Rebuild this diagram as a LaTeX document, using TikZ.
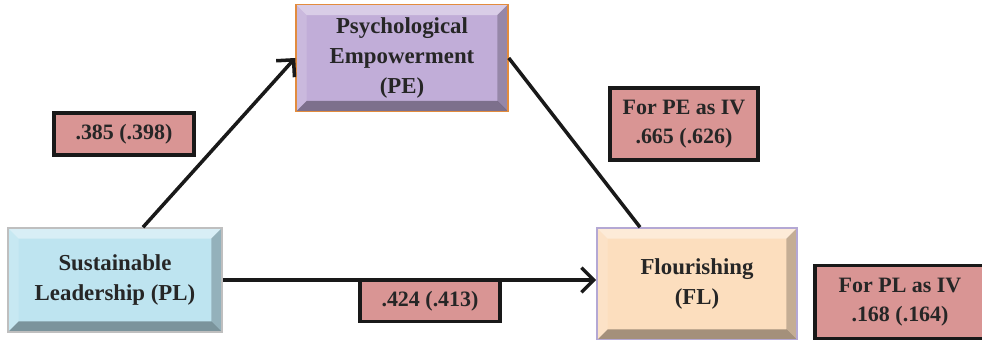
\documentclass[tikz,border=0pt]{standalone}
\usepackage{fontspec}
\setmainfont{Liberation Serif}
\usetikzlibrary{arrows.meta,calc}
\definecolor{peFill}{RGB}{193,173,216}
\definecolor{peLine}{RGB}{226,140,62}
\definecolor{plFill}{RGB}{190,228,240}
\definecolor{flFill}{RGB}{252,222,190}
\definecolor{boxLine}{RGB}{180,168,212}
\definecolor{coefFill}{RGB}{217,149,148}
\tikzset{
  bevel/.style={path picture={
    \path (path picture bounding box.north west) coordinate (bnw)
          (path picture bounding box.south east) coordinate (bse);
    \fill[white,opacity=.4] (bnw) -- (bnw -| bse) -- ++(-6pt,-6pt) -- ($(bnw)+(6pt,-6pt)$) -- cycle;
    \fill[white,opacity=.15] (bnw) -- ($(bnw)+(6pt,-6pt)$) -- ($(bnw |- bse)+(6pt,6pt)$) -- (bnw |- bse) -- cycle;
    \fill[black,opacity=.35] (bnw |- bse) -- (bse) -- ++(-6pt,6pt) -- ($(bnw |- bse)+(6pt,6pt)$) -- cycle;
    \fill[black,opacity=.22] (bse) -- (bse |- bnw) -- ++(-6pt,-6pt) -- ($(bse)+(-6pt,6pt)$) -- cycle;
  }},
  var/.style={align=center, inner sep=0pt, line width=0.9pt, bevel,
    font=\bfseries\fontsize{13}{17}\selectfont, text=black!85},
  coef/.style={align=center, inner sep=0pt, fill=coefFill, draw=black!90, line width=2pt,
    font=\bfseries\fontsize{12.5}{16.5}\selectfont, text=black!85},
  link/.style={line width=2pt, draw=black!90},
  tip/.style={-{Straight Barb[length=7pt,width=14pt,line width=2pt]}}
}
\begin{document}
\begin{tikzpicture}[x=0.02cm,y=-0.02cm]
\useasboundingbox (0,0) rectangle (982,340);
\node[var, fill=peFill, draw=peLine, minimum width=4.24cm, minimum height=2.14cm] (PE) at (402,58) {Psychological\\Empowerment\\(PE)};
\node[var, fill=plFill, draw=black!25, minimum width=4.28cm, minimum height=2.08cm] (PL) at (115,280) {Sustainable\\Leadership (PL)};
\node[var, fill=flFill, draw=boxLine, minimum width=4.0cm, minimum height=2.24cm] (FL) at (697,284) {Flourishing\\(FL)};

\draw[link, tip] ([xshift=0.56cm]PL.north) -- (PE.west);
\draw[link, tip] (PL.east) -- (PL.east -| FL.west);
\draw[link] (PE.east) -- ([xshift=-1.14cm]FL.north);

\node[coef, minimum width=2.8cm, minimum height=0.84cm] (a) at (124,134) {.385 (.398)};
\node[coef, minimum width=2.96cm, minimum height=1.44cm] (b) at (684,124) {For PE as IV\\.665 (.626)};
\node[coef, minimum width=2.8cm, minimum height=0.82cm] (c) at (430,301) {.424 (.413)};
\node[coef, minimum width=3.4cm, minimum height=1.46cm] (d) at (900,302) {For PL as IV\\.168 (.164)};
\end{tikzpicture}
\end{document}
